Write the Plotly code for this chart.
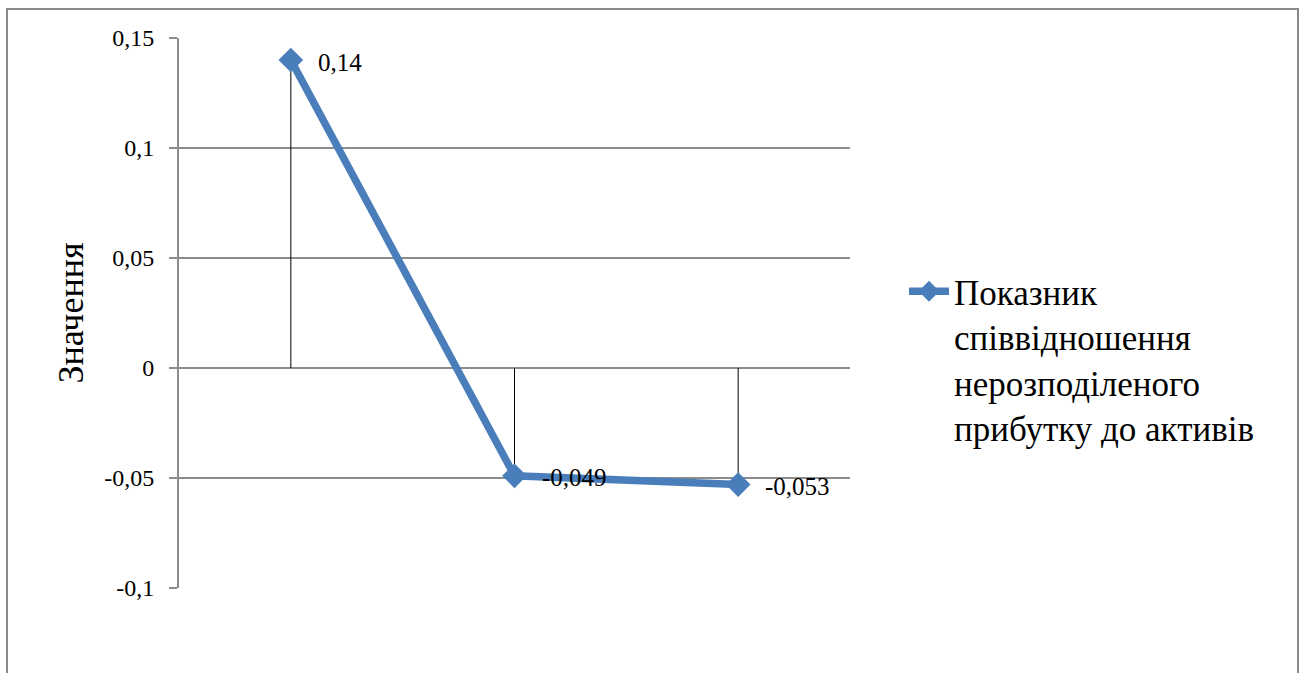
import plotly.graph_objects as go

# Series data
categories = ["Період 1", "Період 2", "Період 3"]
values = [0.14, -0.049, -0.053]
value_labels = ["0,14", "-0,049", "-0,053"]
series_name = "Показник<br>співвідношення<br>нерозподіленого<br>прибутку до активів"

# Y axis ticks
tick_values = [-0.1, -0.05, 0, 0.05, 0.1, 0.15]
tick_labels = ["-0,1", "-0,05", "0", "0,05", "0,1", "0,15"]

FONT = "'Times New Roman', 'Liberation Serif', 'DejaVu Serif', serif"
LINE_BLUE = "#4a7ebb"
GRID = "#8c8c8c"

fig = go.Figure()

# Drop lines from the zero axis to each point
drop_x, drop_y = [], []
for c, v in zip(categories, values):
    drop_x += [c, c, None]
    drop_y += [0, v, None]
fig.add_trace(go.Scatter(
    x=drop_x, y=drop_y, mode="lines",
    line=dict(color="black", width=1),
    showlegend=False, hoverinfo="skip",
))

# Main series
fig.add_trace(go.Scatter(
    x=categories, y=values, mode="lines+markers",
    name=series_name,
    line=dict(color=LINE_BLUE, width=7.5),
    marker=dict(symbol="diamond", size=19, color=LINE_BLUE),
))

# Value labels next to points
for c, v, t in zip(categories, values, value_labels):
    fig.add_annotation(
        x=c, y=v, text=t, showarrow=False,
        xanchor="left", yanchor="middle", xshift=25, yshift=-2,
        font=dict(family=FONT, size=25, color="black"),
    )

# Outer chart border
fig.add_shape(
    type="rect", xref="paper", yref="paper",
    x0=(7 - 179) / 671, x1=(1298 - 179) / 671,
    y0=(588 - 690) / 550, y1=(588 - 9) / 550,
    line=dict(color="#8a8a8a", width=2),
)

fig.update_layout(
    width=1304, height=673,
    margin=dict(l=179, r=454, t=38, b=85),
    paper_bgcolor="white", plot_bgcolor="white",
    font=dict(family=FONT, color="black"),
    showlegend=True,
    legend=dict(
        x=(904 - 179) / 671, y=(588 - 262) / 550,
        xanchor="left", yanchor="top",
        valign="top",
        font=dict(family=FONT, size=35, color="black"),
        bgcolor="rgba(0,0,0,0)",
        itemwidth=40,
    ),
    xaxis=dict(
        type="category", range=[-0.5, 2.5],
        showticklabels=False, showgrid=False, zeroline=False,
        showline=False, ticks="",
    ),
    yaxis=dict(
        range=[-0.1, 0.15],
        tickvals=tick_values, ticktext=tick_labels,
        tickfont=dict(family=FONT, size=24, color="black"),
        ticklabelstandoff=10,
        showgrid=True, gridcolor=GRID, gridwidth=1.5,
        zeroline=True, zerolinecolor=GRID, zerolinewidth=1.5,
        showline=True, linecolor=GRID, linewidth=2,
        ticks="outside", ticklen=8, tickcolor=GRID, tickwidth=1.5,
        title=dict(text="Значення", font=dict(family=FONT, size=36, color="black"), standoff=10),
    ),
)

fig.write_html("out.html")
